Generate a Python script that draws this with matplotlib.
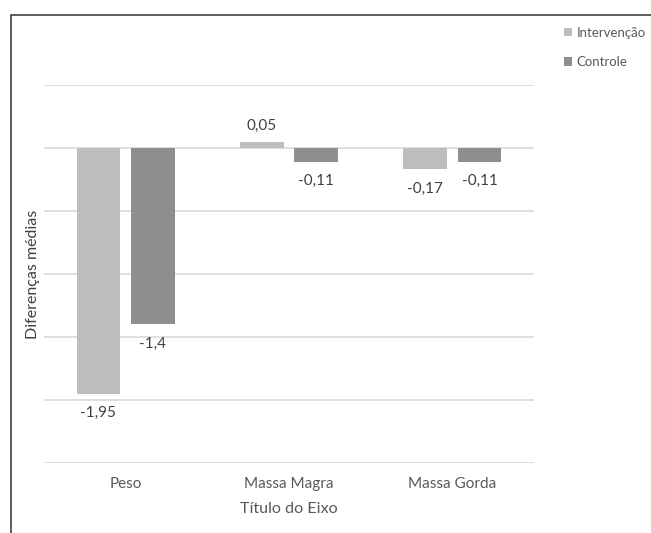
import matplotlib
matplotlib.use("Agg")
import matplotlib.pyplot as plt
from matplotlib.patches import Rectangle
import numpy as np

categories = ["Peso", "Massa Magra", "Massa Gorda"]
series_names = ["Intervenção", "Controle"]
intervencao = [-1.95, 0.05, -0.17]
controle = [-1.4, -0.11, -0.11]
label_int = ["-1,95", "0,05", "-0,17"]
label_ctl = ["-1,4", "-0,11", "-0,11"]
y_title = "Diferenças médias"
x_title = "Título do Eixo"

plt.rcParams['font.family'] = ['Lato', 'DejaVu Sans']

fig = plt.figure(figsize=(6.51, 5.33), dpi=100)
ax = fig.add_axes([44/651, 1-463/533, (534-44)/651, (463-85)/533])

x = np.arange(len(categories))
w = 0.267
off = 0.167
c_int = "#BDBDBD"
c_ctl = "#8E8E8E"
b1 = ax.bar(x - off, intervencao, w, color=c_int, label=series_names[0], zorder=3)
b2 = ax.bar(x + off, controle, w, color=c_ctl, label=series_names[1], zorder=3)

txtc = "#404040"
for bars, labels in ((b1, label_int), (b2, label_ctl)):
    for rect, lab in zip(bars, labels):
        v = rect.get_height()
        xc = rect.get_x() + rect.get_width()/2
        if v >= 0:
            ax.annotate(lab, (xc, v), xytext=(0, 6), textcoords="offset points",
                        ha="center", va="bottom", fontsize=11, color=txtc)
        else:
            ax.annotate(lab, (xc, v), xytext=(0, -9), textcoords="offset points",
                        ha="center", va="top", fontsize=11, color=txtc)

ax.set_xlim(-0.5, 2.5)
ax.set_ylim(-2.5, 0.5)
ax.set_yticks(np.arange(-2.5, 0.51, 0.5))
ax.set_yticklabels([])
ax.tick_params(axis='y', length=0)
ax.tick_params(axis='x', length=0, pad=10, labelsize=11, labelcolor="#595959")
ax.set_xticks(x)
ax.set_xticklabels(categories)
ax.grid(axis='y', color="#D9D9D9", linewidth=1.2, zorder=0)
for s in ax.spines.values():
    s.set_visible(False)
ax.set_xlabel(x_title, fontsize=11.6, color="#595959", labelpad=8)
ax.set_ylabel(y_title, fontsize=11.5, color="#404040")
ax.yaxis.set_label_coords(-0.008, 0.5)

leg = fig.legend(handles=[b1, b2], loc="upper left", bbox_to_anchor=(552/651, 1-15/533),
                 frameon=False, fontsize=9.5, handlelength=0.6, handleheight=0.6,
                 handletextpad=0.35, labelspacing=1.3, labelcolor="#595959")

fig.add_artist(Rectangle((11/651, -0.1), 1.2, 1.1 - 15/533, transform=fig.transFigure,
                         fill=False, edgecolor="#404040", linewidth=1.2))

fig.savefig("out.png", dpi=100)
